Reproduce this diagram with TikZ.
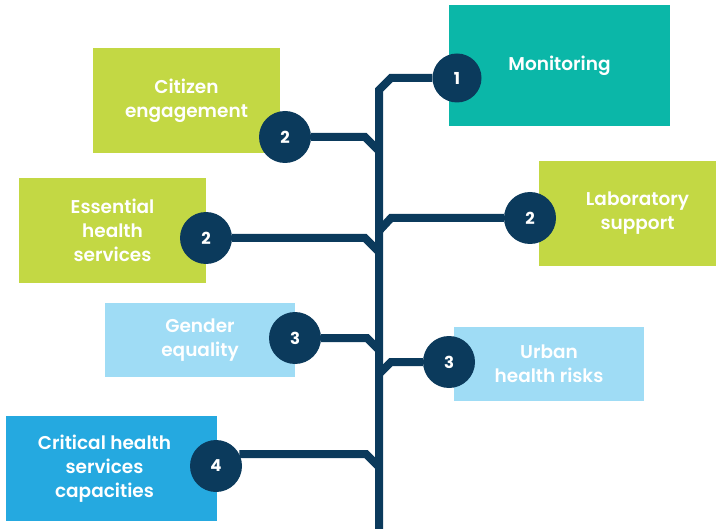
\documentclass[tikz,border=0pt]{standalone}
\usepackage{fontspec}
\setmainfont{Poppins}[BoldFont={Poppins SemiBold}]
\newfontfamily\numfont{Poppins Bold}
\usepackage{tikz}
\usetikzlibrary{shapes,backgrounds}
\definecolor{navy}{HTML}{0B3A5C}
\definecolor{teal}{HTML}{0BB7A8}
\definecolor{lime}{HTML}{C3D844}
\definecolor{skyblue}{HTML}{9FDCF5}
\definecolor{deepblue}{HTML}{25A9E0}

\begin{document}
\begin{tikzpicture}[x=1pt,y=-1pt,
	box/.style={fill=#1, inner sep=0pt, text=white, align=center,
		font=\fontsize{18.5}{24}\selectfont\bfseries},
	num/.style={circle, fill=navy, minimum size=52pt, inner sep=0pt, text=white,
		font=\fontsize{16.5}{16.5}\selectfont\numfont},
	stem/.style={navy, line width=8pt}]
\useasboundingbox (0,0) rectangle (717,529);

	% draw boxes
	\node[box=teal, minimum width=221pt, minimum height=121pt] (mon) at (559.5,65.5) {Monitoring};
	\node[box=lime, minimum width=187pt, minimum height=105pt] (cit) at (186.5,100.5) {Citizen\\engagement};
	\node[box=lime, minimum width=177pt, minimum height=105pt] (lab) at (627.5,213.5) {};
	\node[box=lime] at ([xshift=10pt]lab.center) {Laboratory\\support};
	\node[box=lime, minimum width=187pt, minimum height=105pt] (ess) at (112.5,230.5) {Essential\\health\\services};
	\node[box=skyblue, minimum width=190pt, minimum height=74pt] (gen) at (200,340) {Gender\\equality};
	\node[box=skyblue, minimum width=190pt, minimum height=74pt] (urb) at (549,364) {Urban\\health risks};
	\node[box=deepblue, minimum width=211pt, minimum height=105pt] (cri) at (111.5,468.5) {};
	\node[box=deepblue] at ([xshift=-7pt]cri.center) {Critical health\\services\\capacities};

	% draw numbers
	\node[num, minimum size=49pt] (n1) at (457,78) {1};
	\node[num] (n2) at (285,137) {2};
	\node[num] (n2b) at (530,218) {2};
	\node[num] (n2c) at (206,238) {2};
	\node[num] (n3) at (295,338) {3};
	\node[num] (n3b) at (449,362) {3};
	\node[num] (n4) at (216,466) {4};

	% draw trunk
	\coordinate (root) at (379,529);
	\draw[stem] (n1.west) -- (391,78) -- (379,90) -- (root);
	% draw branches
	\draw[stem] (n2.east) -- (365,137) -- (379,151);
	\draw[stem] (n2c.east) -- (365,238) -- (379,252);
	\draw[stem] (n3.east) -- (367,338) -- (379,350);
	\draw[stem] (n4.27) -- (366,454) -- (379,467);
	\draw[stem] (379,231) -- (391,218) -- (n2b.west);
	\draw[stem] (379,374) -- (391,362) -- (n3b.west);
\end{tikzpicture}
\end{document}
